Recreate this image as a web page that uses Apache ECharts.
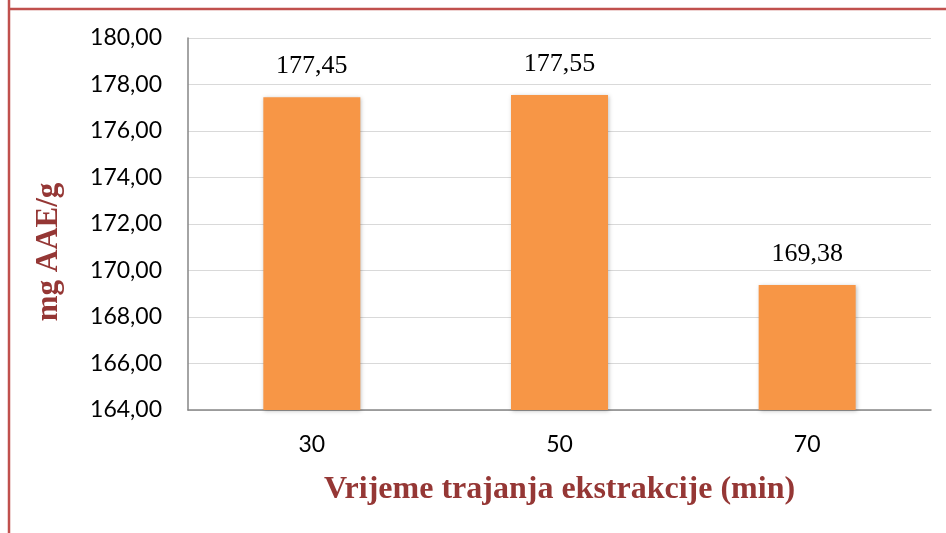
<!DOCTYPE html>
<html><head><meta charset="utf-8">
<script src="https://cdn.jsdelivr.net/npm/echarts@6/dist/echarts.min.js"></script>
<style>html,body{margin:0;padding:0;background:#fff}#c{width:946px;height:533px}</style>
</head><body><div id="c"></div>
<script>
const categories = ['30', '50', '70'];
const values = [177.45, 177.55, 169.38];
const yMin = 164, yMax = 180, yStep = 2;
const xTitle = 'Vrijeme trajanja ekstrakcije (min)';
const yTitle = 'mg AAE/g';
const fmt = v => v.toFixed(2).replace('.', ',');
const chart = echarts.init(document.getElementById('c'));
chart.setOption({
  animation: false,
  graphic: [
    {type:'line', shape:{x1:9, y1:0, x2:9, y2:533}, style:{stroke:'#c0504d', lineWidth:2.5}},
    {type:'line', shape:{x1:8, y1:9, x2:946, y2:9}, style:{stroke:'#c0504d', lineWidth:2.5}},
    {type:'text', x:49, y:252, rotation:Math.PI/2,
     style:{text:yTitle, fontFamily:'Liberation Serif', fontWeight:'bold', fontSize:31, fill:'#953735',
            textAlign:'center', textVerticalAlign:'middle'}}
  ],
  grid: {left:188, right:15, top:38, bottom:123},
  xAxis: {
    type:'category', data:categories,
    axisLine:{lineStyle:{color:'#868686', width:1.5}},
    axisTick:{show:false},
    axisLabel:{fontFamily:'Lato', fontSize:23, color:'#000', margin:23},
    name:xTitle, nameLocation:'middle', nameGap:64,
    nameTextStyle:{fontFamily:'Liberation Serif', fontWeight:'bold', fontSize:32, color:'#953735'}
  },
  yAxis: {
    type:'value', min:yMin, max:yMax, interval:yStep,
    axisLine:{show:true, lineStyle:{color:'#868686', width:1.5}},
    axisTick:{show:false},
    splitLine:{lineStyle:{color:'#d9d9d9', width:1.2}},
    axisLabel:{fontFamily:'Lato', fontSize:23, color:'#000', margin:26, formatter:fmt}
  },
  series: [{
    type:'bar', data:values, barWidth:97,
    itemStyle:{color:'#f79646', shadowColor:'rgba(0,0,0,0.25)', shadowBlur:4, shadowOffsetX:1, shadowOffsetY:1},
    label:{show:true, position:'top', distance:18, formatter:p=>fmt(p.value),
      fontFamily:'Liberation Serif', fontSize:26, color:'#000'}
  }]
});
</script></body></html>
